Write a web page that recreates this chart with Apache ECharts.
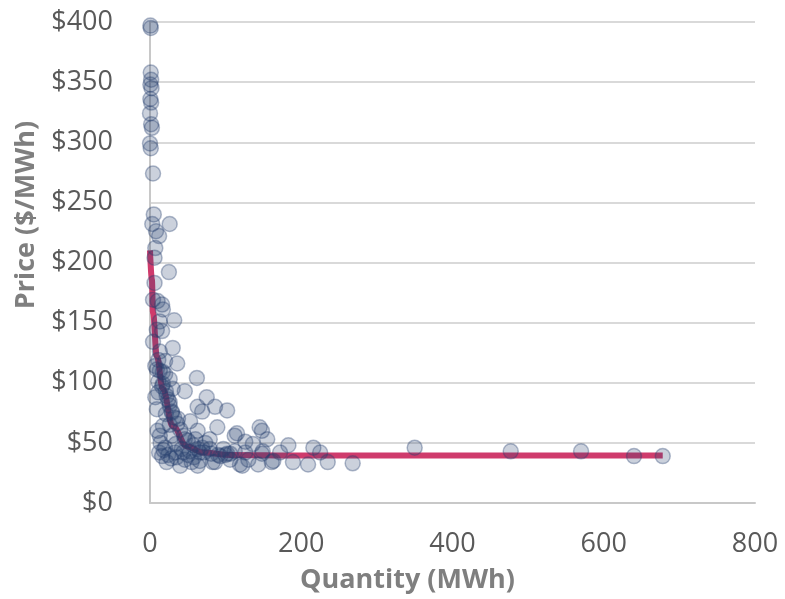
<!DOCTYPE html>
<html>
<head>
    <meta charset="utf-8">
    <title>Price vs Quantity</title>
    <script src="https://cdn.jsdelivr.net/npm/echarts@6/dist/echarts.min.js"></script>
    <style>
        html, body { margin: 0; padding: 0; background: #fff; }
    </style>
</head>
<body>
    <div id="main" style="width: 785px;height:599px;"></div>
    <script type="text/javascript">
        // observations: [quantity MWh, price $/MWh]
        var points = [
            [0.5, 397], [1, 395], [1, 358], [1.5, 352], [0.5, 348], [2, 345], [0.5, 336], [1.5, 333],
            [0, 324], [1.5, 315], [2.5, 312], [0, 299], [1, 295], [4, 274], [5, 240], [3, 232],
            [26, 232], [8, 226], [12, 222], [7, 212], [6, 204], [25, 192], [6, 183], [4, 169],
            [10, 168], [16, 165], [17, 161], [32, 152], [13, 151], [9, 144], [16, 143], [4, 134],
            [30, 129], [13, 126], [20, 118], [36, 116], [7, 114], [9, 111], [17, 109], [20, 107],
            [62, 104], [26, 103], [16, 97], [46, 93], [11, 92], [30, 95], [22, 89], [75, 88],
            [26, 84], [63, 80], [86, 80], [102, 77], [9, 78], [69, 76], [29, 75], [37, 70],
            [53, 68], [89, 63], [145, 63], [17, 64], [63, 60], [112, 56], [13, 56], [29, 56],
            [79, 53], [46, 53], [155, 53], [126, 51], [136, 49], [183, 48], [216, 46], [350, 46],
            [20, 46], [69, 46], [97, 45], [33, 42], [112, 43], [172, 42], [149, 43], [225, 42],
            [477, 43], [570, 43], [102, 41], [16, 39], [640, 39], [678, 39], [46, 36], [130, 36],
            [106, 36], [86, 34], [22, 34], [161, 34], [189, 34], [143, 32], [209, 32], [235, 34],
            [268, 33], [63, 31], [40, 31], [122, 31], [93, 39], [44, 42], [83, 34], [119, 32],
            [163, 35], [66, 42], [79, 45], [106, 41], [126, 42], [148, 41], [148, 60], [115, 58],
            [11, 119], [13, 110], [17, 99], [21, 93], [24, 86], [26, 81], [29, 76], [32, 71],
            [36, 66], [40, 61], [45, 56], [50, 52], [57, 48], [63, 45], [71, 42], [81, 41],
            [90, 40], [100, 40], [60, 53], [73, 50], [53, 43], [34, 49], [26, 65], [21, 74],
            [7, 88], [11, 101], [66, 35], [58, 38], [10, 60], [14, 50], [18, 44], [24, 40],
            [28, 37], [12, 42], [35, 38], [42, 45], [50, 40], [55, 34]
        ];

        // fitted curve
        var fitQty = [0, 2.5, 4, 9, 17, 30, 49, 70, 106, 200, 400, 678];
        var fitPrice = [210, 186, 158, 122, 95, 64, 47, 42, 40, 39.5, 39.5, 39.5];

        var yTicks = [0, 50, 100, 150, 200, 250, 300, 350, 400];
        var xTicks = [0, 200, 400, 600, 800];

        var fitLine = fitQty.map(function (q, i) { return [q, fitPrice[i]]; });

        var myChart = echarts.init(document.getElementById('main'));

        var labelFont = 'Open Sans, Noto Sans, sans-serif';

        option = {
            animation: false,
            grid: {
                left: 150,
                right: 30,
                top: 22,
                bottom: 95
            },
            xAxis: {
                type: 'value',
                min: xTicks[0],
                max: xTicks[xTicks.length - 1],
                interval: 200,
                name: 'Quantity (MWh)',
                nameLocation: 'middle',
                nameGap: 64,
                nameTextStyle: {
                    color: '#7f7f7f',
                    fontSize: 27,
                    fontWeight: 'bold',
                    fontFamily: labelFont,
                    padding: [0, 90, 0, 0]
                },
                axisLine: { show: true, lineStyle: { color: '#c8c8c8', width: 2 } },
                axisTick: { show: false },
                splitLine: { show: false },
                axisLabel: {
                    color: '#595959',
                    fontSize: 27,
                    fontFamily: labelFont,
                    margin: 28
                }
            },
            yAxis: {
                type: 'value',
                min: yTicks[0],
                max: yTicks[yTicks.length - 1],
                interval: 50,
                name: 'Price ($/MWh)',
                nameLocation: 'middle',
                nameGap: 110,
                nameTextStyle: {
                    color: '#7f7f7f',
                    fontSize: 27,
                    fontWeight: 'bold',
                    fontFamily: labelFont,
                    padding: [0, 0, 0, 95]
                },
                axisLine: { show: true, lineStyle: { color: '#c8c8c8', width: 2 } },
                axisTick: { show: false },
                splitLine: { show: true, lineStyle: { color: '#d9d9d9', width: 2 } },
                axisLabel: {
                    color: '#595959',
                    fontSize: 27,
                    fontFamily: labelFont,
                    margin: 37,
                    formatter: function (v) { return '$' + v; }
                }
            },
            series: [
                {
                    type: 'line',
                    data: fitLine,
                    smooth: 0.4,
                    smoothMonotone: 'x',
                    showSymbol: false,
                    z: 1,
                    lineStyle: { color: '#cf3b6c', width: 6 }
                },
                {
                    type: 'scatter',
                    data: points,
                    symbolSize: 15,
                    z: 2,
                    itemStyle: {
                        color: 'rgba(40, 64, 112, 0.3)',
                        borderColor: 'rgba(40, 64, 112, 0.45)',
                        borderWidth: 1.5
                    }
                }
            ]
        };

        myChart.setOption(option);
    </script>
</body>
</html>
